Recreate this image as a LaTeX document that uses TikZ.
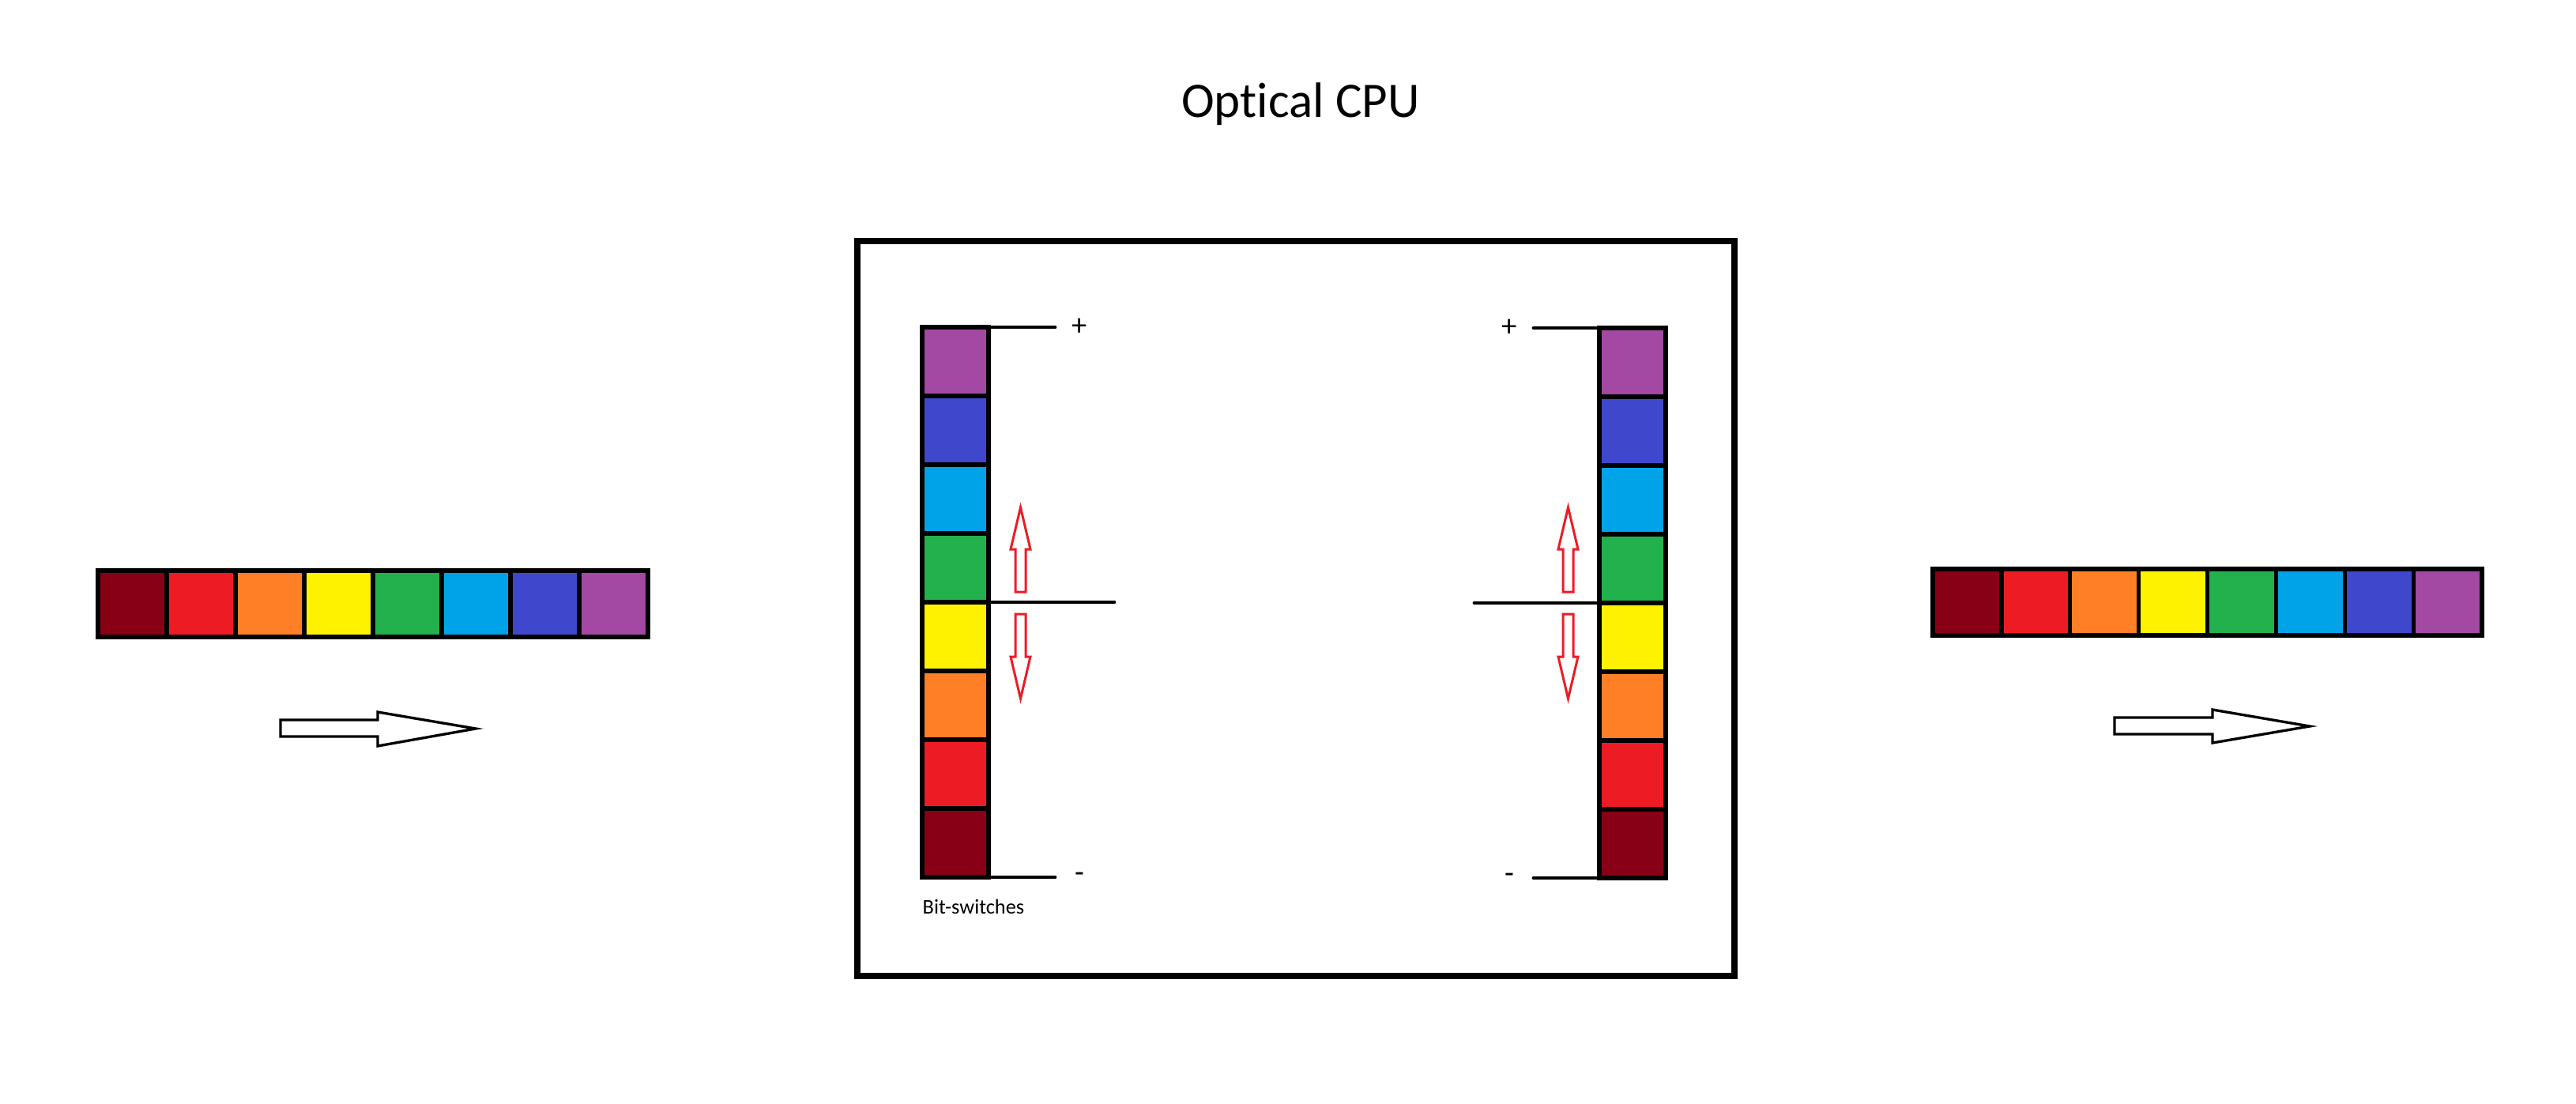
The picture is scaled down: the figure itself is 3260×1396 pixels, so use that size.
\documentclass[tikz,border=0pt]{standalone}
\usepackage{fontspec}
\setmainfont{Carlito}[Ligatures={NoCommon,NoContextual}]
\definecolor{cDarkRed}{HTML}{880015}
\definecolor{cRed}{HTML}{ED1C24}
\definecolor{cOrange}{HTML}{FF7F27}
\definecolor{cYellow}{HTML}{FFF200}
\definecolor{cGreen}{HTML}{22B14C}
\definecolor{cCyan}{HTML}{00A2E8}
\definecolor{cIndigo}{HTML}{3F48CC}
\definecolor{cPurple}{HTML}{A349A4}
\begin{document}
\begin{tikzpicture}[x=0.01cm,y=-0.01cm,
  cell/.style={draw=black,line width=1.5pt},
  wire/.style={draw=black,line width=1.4pt,line cap=round},
  frame/.style={draw=black,line width=2.3pt},
  redarrow/.style={draw=cRed,line width=0.85pt,fill=white,line join=miter},
  flowarrow/.style={draw=black,line width=0.95pt,fill=white,line join=miter},
  sign/.style={inner sep=0pt,font=\fontsize{11}{13}\selectfont},
]
\useasboundingbox[fill=white] (0,0) rectangle (3260,1396);

% title
\node[anchor=base,inner sep=0pt,font=\fontsize{17.9}{21}\selectfont] (title) at (1646,148) {Optical CPU};

% CPU frame
\draw[frame] (1085,305) rectangle (2195,1235);

% input bar (left)
\foreach \c [count=\i from 0] in {cDarkRed,cRed,cOrange,cYellow,cGreen,cCyan,cIndigo,cPurple}
  \filldraw[cell,fill=\c] ({124+87*\i},722) rectangle ({211+87*\i},806);

% output bar (right)
\foreach \c [count=\i from 0] in {cDarkRed,cRed,cOrange,cYellow,cGreen,cCyan,cIndigo,cPurple}
  \filldraw[cell,fill=\c] ({2446+86.875*\i},720) rectangle ({2532.875+86.875*\i},804);

% left bit-switch column
\foreach \c [count=\i from 0] in {cPurple,cIndigo,cCyan,cGreen,cYellow,cOrange,cRed,cDarkRed}
  \filldraw[cell,fill=\c] (1167,{414+87*\i}) rectangle (1251,{501+87*\i});

% right bit-switch column
\foreach \c [count=\i from 0] in {cPurple,cIndigo,cCyan,cGreen,cYellow,cOrange,cRed,cDarkRed}
  \filldraw[cell,fill=\c] (2024,{415+87*\i}) rectangle (2108,{502+87*\i});

% wires of left column
\draw[wire] (1251,414) -- (1335,414);
\draw[wire] (1251,762) -- (1410,762);
\draw[wire] (1251,1110) -- (1335,1110);
\node[sign] (lplus) at (1366,414) {+};
\node[sign] (lminus) at (1366,1110) {-};

% wires of right column
\draw[wire] (2024,415) -- (1941,415);
\draw[wire] (2024,763) -- (1866,763);
\draw[wire] (2024,1111) -- (1941,1111);
\node[sign] (rplus) at (1910,415) {+};
\node[sign] (rminus) at (1910,1111) {-};

% label
\node[anchor=base west,inner sep=0pt,font=\fontsize{7.5}{9}\selectfont] (bits) at (1167,1156) {Bit-switches};

% red up/down arrows
\foreach \cx in {1291.5,1984.5} {
  \draw[redarrow] ({\cx-6.5},749) -- ({\cx-6.5},695) -- ({\cx-12.5},695) -- (\cx,642)
    -- ({\cx+12.5},695) -- ({\cx+6.5},695) -- ({\cx+6.5},749) -- cycle;
  \draw[redarrow] ({\cx-6.5},777) -- ({\cx-6.5},831) -- ({\cx-12.5},831) -- (\cx,884)
    -- ({\cx+12.5},831) -- ({\cx+6.5},831) -- ({\cx+6.5},777) -- cycle;
}

% flow arrows
\draw[flowarrow] (355,911) -- (478,911) -- (478,901) -- (602,922) -- (478,944) -- (478,932) -- (355,932) -- cycle;
\draw[flowarrow] (2676,908) -- (2800,908) -- (2800,898) -- (2923,919) -- (2800,940) -- (2800,929) -- (2676,929) -- cycle;
\end{tikzpicture}
\end{document}
